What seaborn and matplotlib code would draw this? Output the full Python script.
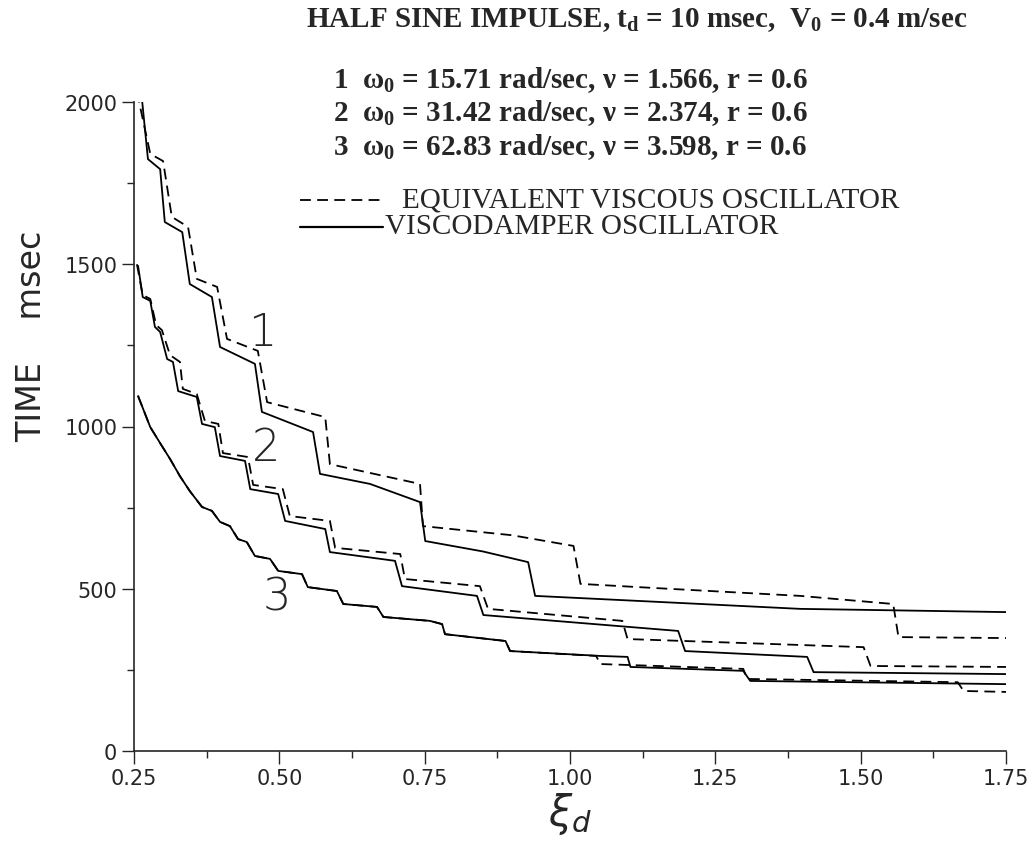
import numpy as np
import pandas as pd
import matplotlib.pyplot as plt
import seaborn as sns
from matplotlib.lines import Line2D
from matplotlib.ticker import MultipleLocator, FormatStrFormatter

# Curva 1 (w0 = 15.71)
c1_visco_x = [0.264, 0.274, 0.295, 0.303, 0.333, 0.346, 0.384, 0.398, 0.458, 0.470, 0.558, 0.570, 0.656,
              0.742, 0.751, 0.850, 0.928, 0.940, 1.146, 1.396, 1.752]
c1_visco_y = [2003, 1824, 1793, 1630, 1599, 1439, 1399, 1245, 1193, 1045, 983, 854, 823,
              767, 647, 615, 582, 478, 460, 438, 428]
c1_equiv_x = [0.255, 0.278, 0.300, 0.315, 0.343, 0.358, 0.393, 0.410, 0.463, 0.479, 0.579, 0.587, 0.742,
              0.747, 0.900, 1.006, 1.018, 1.138, 1.396, 1.556, 1.565, 1.752]
c1_equiv_y = [2031, 1840, 1818, 1646, 1615, 1455, 1430, 1270, 1233, 1075, 1029, 884, 823,
              693, 665, 632, 515, 503, 478, 453, 351, 348]

# Curva 2 (w0 = 31.42)
c2_visco_x = [0.257, 0.265, 0.278, 0.286, 0.295, 0.307, 0.317, 0.326, 0.358, 0.367, 0.389, 0.398, 0.441,
              0.450, 0.498, 0.510, 0.579, 0.587, 0.699, 0.711, 0.840, 0.851, 1.186, 1.198, 1.408, 1.419, 1.751]
c2_visco_y = [1495, 1399, 1387, 1307, 1291, 1208, 1199, 1109, 1091, 1008, 998, 909, 894,
              807, 792, 709, 684, 613, 586, 508, 478, 419, 370, 308, 290, 243, 237]
c2_equiv_x = [0.255, 0.265, 0.278, 0.288, 0.298, 0.312, 0.329, 0.334, 0.358, 0.372, 0.395, 0.403, 0.446,
              0.455, 0.506, 0.518, 0.587, 0.596, 0.708, 0.716, 0.845, 0.859, 1.090, 1.099, 1.505, 1.517, 1.751]
c2_equiv_y = [1500, 1405, 1393, 1313, 1297, 1220, 1199, 1116, 1100, 1017, 1008, 918, 906,
              820, 807, 724, 709, 626, 607, 530, 508, 438, 401, 345, 320, 262, 259]

# Curva 3 (w0 = 62.83)
c3_visco_x = [0.257, 0.278, 0.298, 0.312, 0.329, 0.346, 0.367, 0.384, 0.398, 0.415, 0.429, 0.444, 0.458,
              0.484, 0.498, 0.539, 0.549, 0.599, 0.610, 0.668, 0.679, 0.759, 0.780, 0.785, 0.889, 0.897,
              1.052, 1.099, 1.104, 1.298, 1.310, 1.751]
c3_visco_y = [1094, 998, 940, 900, 847, 801, 752, 740, 706, 693, 653, 644, 601,
              592, 555, 545, 505, 493, 453, 444, 413, 401, 391, 360, 339, 308,
              293, 290, 259, 247, 216, 206]
c3_equiv_x = [0.257, 0.278, 0.298, 0.312, 0.329, 0.346, 0.367, 0.384, 0.398, 0.415, 0.429, 0.444, 0.458,
              0.484, 0.498, 0.539, 0.549, 0.599, 0.610, 0.668, 0.679, 0.759, 0.780, 0.785, 0.889, 0.897,
              1.045, 1.052, 1.298, 1.305, 1.667, 1.677, 1.751]
c3_equiv_y = [1094, 998, 940, 900, 847, 801, 752, 740, 706, 693, 653, 644, 601,
              592, 555, 545, 505, 493, 453, 444, 413, 401, 391, 360, 339, 308,
              293, 268, 253, 222, 212, 185, 182]

series = [
    ("1", "viscodamper", c1_visco_x, c1_visco_y),
    ("1", "equivalent", c1_equiv_x, c1_equiv_y),
    ("2", "viscodamper", c2_visco_x, c2_visco_y),
    ("2", "equivalent", c2_equiv_x, c2_equiv_y),
    ("3", "viscodamper", c3_visco_x, c3_visco_y),
    ("3", "equivalent", c3_equiv_x, c3_equiv_y),
]
rows = []
for curve, model, xs, ys in series:
    for x, y in zip(xs, ys):
        rows.append({"curve": curve, "model": model, "xi": x, "time": y})
df = pd.DataFrame(rows)

sns.set_style("ticks")
plt.rcParams['font.family'] = ['DejaVu Sans']
plt.rcParams['mathtext.fontset'] = 'custom'
plt.rcParams['mathtext.rm'] = 'Liberation Serif'
plt.rcParams['mathtext.it'] = 'Liberation Serif:italic'
plt.rcParams['mathtext.bf'] = 'Liberation Serif:bold'

W, H = 1036, 854
fig = plt.figure(figsize=(W / 100, H / 100), dpi=100)
ax = fig.add_axes([134 / W, 1 - 752 / H, 872 / W, 649 / H])

dash = (6, 3.5)
for curve, model, xs, ys in series:
    sub = df[(df["curve"] == curve) & (df["model"] == model)]
    sns.lineplot(data=sub, x="xi", y="time", ax=ax, color="black", lw=1.3,
                 estimator=None, sort=False,
                 linestyle="--" if model == "equivalent" else "-")
for line in ax.lines:
    if line.get_linestyle() == "--":
        line.set_dashes(dash)

ax.set_xlim(0.25, 1.75)
ax.set_ylim(0, 2000)
ax.xaxis.set_major_locator(MultipleLocator(0.25))
ax.xaxis.set_minor_locator(MultipleLocator(0.125))
ax.xaxis.set_major_formatter(FormatStrFormatter("%.2f"))
ax.yaxis.set_major_locator(MultipleLocator(500))
ax.yaxis.set_minor_locator(MultipleLocator(250))
ax.tick_params(which="major", length=9, width=1, labelsize=15, direction="out", pad=3)
ax.tick_params(which="minor", length=5, width=1, direction="out")
sns.despine(ax=ax)
for s in ["left", "bottom"]:
    ax.spines[s].set_linewidth(1.2)

ax.set_xlabel(r"$\xi_d$", fontsize=30, labelpad=2)
ax.xaxis.label.set_math_fontfamily("dejavusans")
ax.set_ylabel("TIME    msec", fontsize=24)
ax.yaxis.set_label_coords(-0.099, 0.64)

# etiquetas de curvas
for lbl, x, y in [("1", 0.470, 1291), ("2", 0.477, 934), ("3", 0.496, 475)]:
    ax.text(x, y, lbl, fontsize=32, ha="center", va="center", fontweight="light")

serif = dict(family="Liberation Serif", fontweight="bold", va="baseline", ha="left")
fig.text(306 / W, 1 - 27 / H,
         r"HALF SINE IMPULSE, t$_\mathbf{d}$ = 10 msec,  V$_\mathbf{0}$ = 0.4 m/sec",
         fontsize=21, **serif)
params = [("1", "15.71", "1.566"), ("2", "31.42", "2.374"), ("3", "62.83", "3.598")]
for i, (n, w0, nu) in enumerate(params):
    fig.text(333 / W, 1 - (88 + 33.5 * i) / H,
             n + r"  ω$_\mathbf{0}$ = " + w0 + " rad/sec, ν = " + nu + ", r = 0.6",
             fontsize=21, **serif)

fig.add_artist(Line2D([300 / W, 383 / W], [1 - 201 / H, 1 - 201 / H], color="black",
                      lw=1.3, linestyle=(0, dash), transform=fig.transFigure))
fig.add_artist(Line2D([300 / W, 383 / W], [1 - 228 / H, 1 - 228 / H], color="black",
                      lw=1.6, transform=fig.transFigure))
fig.text(402 / W, 1 - 208 / H, "EQUIVALENT VISCOUS OSCILLATOR", fontsize=21,
         family="Liberation Serif", va="baseline", ha="left")
fig.text(385 / W, 1 - 234 / H, "VISCODAMPER OSCILLATOR", fontsize=21,
         family="Liberation Serif", va="baseline", ha="left")

fig.savefig("out.png", dpi=100)
